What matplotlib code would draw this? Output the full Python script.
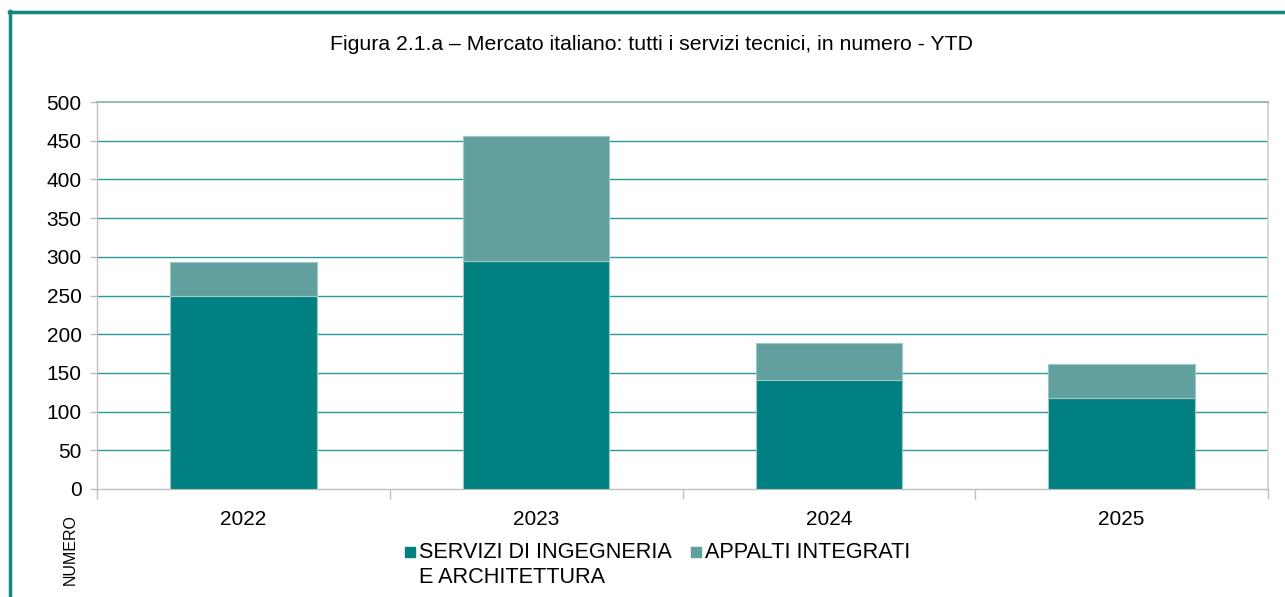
import matplotlib.pyplot as plt
import numpy as np
from matplotlib.lines import Line2D
from matplotlib.patches import Rectangle

plt.rcParams['font.family'] = ['Liberation Sans', 'DejaVu Sans']

# Data
years = ['2022', '2023', '2024', '2025']
servizi_ing_arch = [250, 294, 141, 118]
appalti_integrati = [43, 162, 47, 43]
y_ticks = list(range(0, 501, 50))
series_labels = ['SERVIZI DI INGEGNERIA\nE ARCHITETTURA', 'APPALTI INTEGRATI']

teal_dark = '#008080'
teal_light = '#62A0A0'
grid_col = '#2A9A9A'

W, H = 1285, 597
fig = plt.figure(figsize=(W / 100, H / 100), dpi=100)

# Teal frame around the figure (top and left visible)
fig.add_artist(Line2D([9.5 / W, 9.5 / W], [0, 1 - 11 / H], color='#13877F', lw=2.5))
fig.add_artist(Line2D([8.5 / W, 1], [1 - 11.5 / H, 1 - 11.5 / H], color='#13877F', lw=2.5))

ax = fig.add_axes([97 / W, 1 - 489 / H, (1268 - 97) / W, (489 - 102) / H])

x = np.arange(len(years))
ax.bar(x, servizi_ing_arch, width=0.5, color=teal_dark, edgecolor='#9CC8C8', linewidth=0.8, zorder=3)
ax.bar(x, appalti_integrati, bottom=servizi_ing_arch, width=0.5, color=teal_light,
       edgecolor='#9CC8C8', linewidth=0.8, zorder=3)

ax.set_xlim(-0.5, len(years) - 0.5)
ax.set_ylim(0, 500)
ax.set_yticks(y_ticks)
ax.set_yticklabels([str(v) for v in y_ticks], fontsize=15)

# category labels centred, tick marks between categories
ax.set_xticks(x)
ax.set_xticklabels(years, fontsize=15)
ax.tick_params(axis='x', length=0, pad=15)
ax.set_xticks(np.arange(-0.5, len(years)), minor=True)
ax.tick_params(axis='x', which='minor', length=7, color='#BFBFBF', width=1)
ax.tick_params(axis='y', length=5, color='#BFBFBF', width=1, pad=6)

for v in y_ticks[1:-1]:
    ax.axhline(v, color=grid_col, lw=1, zorder=1)

for side in ['left', 'bottom']:
    ax.spines[side].set_color('#BFBFBF')
    ax.spines[side].set_linewidth(1)
ax.spines['right'].set_color('#D0D0D0')
ax.spines['right'].set_linewidth(1.2)
ax.spines['top'].set_color('#9BBBBB')
ax.spines['top'].set_linewidth(1.5)

fig.text(652 / W, 1 - 45 / H, 'Figura 2.1.a \u2013 Mercato italiano: tutti i servizi tecnici, in numero - YTD',
         ha='center', va='center', fontsize=15.3)

fig.text(70 / W, 1 - 550 / H, 'NUMERO', rotation=90, ha='center', va='center', fontsize=11.5)

# legend: square marker aligned with the first text line
legend_x = [405, 691]
for lx, lab, col in zip(legend_x, series_labels, [teal_dark, teal_light]):
    fig.add_artist(Rectangle((lx / W, 1 - 557 / H), 10 / W, 10 / H, color=col,
                             transform=fig.transFigure))
    fig.text((lx + 14) / W, 1 - 542 / H, lab, ha='left', va='top', fontsize=15.6, linespacing=1.22)

fig.savefig('out.png', dpi=100)
